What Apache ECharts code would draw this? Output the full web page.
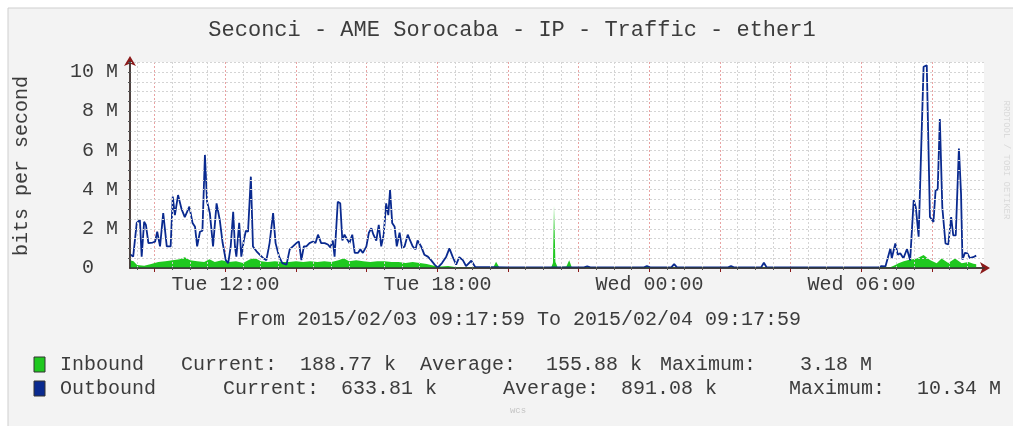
<!DOCTYPE html>
<html>
<head>
<meta charset="utf-8">
<script src="https://cdn.jsdelivr.net/npm/echarts@6/dist/echarts.min.js"></script>
<style>
  html, body { margin: 0; padding: 0; background: #fff; }
  #chart { width: 1013px; height: 426px; }
</style>
</head>
<body>
<div id="chart"></div>
<script>
// time = hour of day counted from Tue 00:00 (so 30 = Wed 06:00), values in Mbit/s
var startHour = 9.2997;   // 2015/02/03 09:17:59
var endHour = 33.47;      // a bit past 09:17:59 so the arrow sits beyond the data
var xLabelHours = [12, 18, 24, 30];
var yLabelValues = [0, 2, 4, 6, 8, 10];

var inbound = [
    [9.30, 0.40], [9.40, 0.35], [9.50, 0.15], [9.70, 0.12], [9.90, 0.20], [10.10, 0.30],
    [10.30, 0.35], [10.50, 0.40], [10.70, 0.45], [10.85, 0.55], [11.00, 0.40], [11.20, 0.35],
    [11.40, 0.30], [11.55, 0.45], [11.70, 0.30], [11.90, 0.40], [12.10, 0.30], [12.30, 0.35],
    [12.50, 0.25], [12.70, 0.45], [12.85, 0.50], [13.00, 0.35], [13.20, 0.30], [13.40, 0.35],
    [13.60, 0.30], [13.80, 0.30], [14.00, 0.35], [14.20, 0.30], [14.40, 0.35], [14.60, 0.30],
    [14.80, 0.35], [15.00, 0.30], [15.20, 0.40], [15.35, 0.50], [15.50, 0.35], [15.70, 0.40],
    [15.90, 0.35], [16.10, 0.30], [16.30, 0.35], [16.50, 0.35], [16.70, 0.30], [16.90, 0.30],
    [17.10, 0.25], [17.30, 0.30], [17.50, 0.25], [17.70, 0.20], [17.90, 0.12], [18.10, 0.08],
    [18.30, 0.10], [18.50, 0.05], [18.70, 0.03], [19.00, 0.02], [19.58, 0.03], [19.66, 0.32],
    [19.75, 0.04], [21.22, 0.03], [21.27, 0.25], [21.30, 3.18], [21.34, 0.30], [21.40, 0.05],
    [21.65, 0.08], [21.73, 0.40], [21.80, 0.05], [23.85, 0.02], [23.93, 0.10], [24.02, 0.02],
    [30.80, 0.02], [30.96, 0.15], [31.05, 0.24], [31.20, 0.35], [31.33, 0.41], [31.57, 0.49],
    [31.76, 0.66], [31.94, 0.41], [32.13, 0.24], [32.27, 0.49], [32.46, 0.26], [32.65, 0.49],
    [32.84, 0.24], [33.03, 0.30], [33.17, 0.22], [33.25, 0.19]
];

var outbound = [
    [9.30, 0.70], [9.39, 0.58], [9.49, 2.30], [9.58, 2.45], [9.63, 0.58], [9.70, 2.36],
    [9.75, 2.20], [9.82, 1.27], [9.94, 1.30], [10.01, 1.35], [10.07, 1.85], [10.15, 1.10],
    [10.24, 2.80], [10.34, 1.10], [10.45, 1.10], [10.51, 3.64], [10.57, 2.70], [10.66, 3.72],
    [10.76, 3.00], [10.85, 2.60], [10.98, 3.13], [11.07, 2.30], [11.14, 2.10], [11.20, 1.10],
    [11.28, 1.85], [11.35, 1.90], [11.42, 5.77], [11.48, 3.40], [11.56, 2.80], [11.65, 1.10],
    [11.75, 3.30], [11.84, 2.45], [11.92, 1.30], [12.01, 0.40], [12.08, 0.25], [12.15, 1.10],
    [12.22, 2.87], [12.27, 1.10], [12.31, 0.58], [12.39, 2.30], [12.45, 0.58], [12.52, 1.40],
    [12.58, 1.90], [12.64, 1.85], [12.72, 4.66], [12.78, 1.10], [12.88, 0.85], [12.97, 0.68],
    [13.07, 0.50], [13.16, 0.40], [13.25, 1.27], [13.35, 2.80], [13.42, 1.27], [13.52, 0.58],
    [13.61, 0.25], [13.73, 0.17], [13.82, 0.95], [13.91, 1.10], [14.01, 1.27], [14.08, 1.35],
    [14.15, 0.40], [14.22, 1.10], [14.29, 1.10], [14.38, 1.27], [14.48, 1.35], [14.55, 1.27],
    [14.62, 1.70], [14.71, 1.27], [14.81, 1.27], [14.90, 1.20], [14.97, 1.05], [15.04, 1.40],
    [15.09, 0.58], [15.18, 3.38], [15.25, 3.30], [15.31, 1.40], [15.37, 1.70], [15.42, 1.80],
    [15.51, 1.27], [15.59, 1.70], [15.66, 0.77], [15.75, 0.77], [15.82, 0.95], [15.89, 0.77],
    [15.99, 1.10], [16.06, 1.80], [16.13, 2.03], [16.19, 1.70], [16.27, 1.40], [16.34, 2.20],
    [16.41, 1.10], [16.48, 1.70], [16.55, 3.30], [16.61, 2.70], [16.66, 3.98], [16.72, 2.30],
    [16.79, 2.10], [16.85, 1.10], [16.93, 1.80], [17.00, 1.00], [17.07, 1.10], [17.16, 1.70],
    [17.23, 1.40], [17.30, 1.10], [17.38, 0.95], [17.44, 1.40], [17.54, 1.10], [17.63, 0.68],
    [17.73, 0.58], [17.82, 0.40], [17.92, 0.17], [18.01, 0.02], [18.13, 0.25], [18.25, 0.58],
    [18.34, 1.00], [18.43, 0.58], [18.53, 0.17], [18.62, 0.55], [18.72, 0.40], [18.81, 0.10],
    [18.96, 0.37], [19.07, 0.05], [20.00, 0.03], [22.15, 0.03], [22.24, 0.08], [22.33, 0.03],
    [23.85, 0.03], [23.93, 0.10], [24.02, 0.03], [24.62, 0.03], [24.70, 0.20], [24.78, 0.03],
    [26.23, 0.03], [26.31, 0.10], [26.39, 0.03], [27.16, 0.03], [27.24, 0.27], [27.32, 0.03],
    [30.49, 0.03], [30.57, 0.10], [30.68, 0.08], [30.82, 1.00], [30.86, 0.50], [30.96, 1.25],
    [31.03, 0.68], [31.10, 0.75], [31.19, 0.50], [31.29, 0.97], [31.38, 0.40], [31.48, 3.47],
    [31.54, 3.10], [31.62, 1.60], [31.66, 1.60], [31.76, 10.27], [31.85, 10.34], [31.90, 6.00],
    [31.94, 2.60], [32.04, 2.35], [32.10, 3.98], [32.16, 4.00], [32.22, 7.60], [32.29, 3.10],
    [32.38, 1.25], [32.46, 1.20], [32.54, 2.60], [32.60, 1.66], [32.67, 1.66], [32.76, 6.10],
    [32.82, 3.80], [32.86, 0.43], [32.93, 0.77], [33.00, 0.75], [33.07, 0.50], [33.16, 0.55],
    [33.25, 0.63]
];

var legendRows = [
    { color: '#1fc81f', y: 365, items: [['Inbound', 60], ['Current:', 181], ['188.77 k', 300], ['Average:', 420], ['155.88 k', 546], ['Maximum:', 660], ['3.18 M', 800]] },
    { color: '#0a2a8f', y: 389, items: [['Outbound', 60], ['Current:', 223], ['633.81 k', 341], ['Average:', 503], ['891.08 k', 621], ['Maximum:', 789], ['10.34 M', 917]] }
];

var FONT = '"Liberation Mono", "DejaVu Sans Mono", monospace';
var TEXT = '#3c3c3c';

// grid positions: grey lines every 30 min, red major lines every 2 hours
var minorX = [], majorX = [], minorY = [];
for (var h = 9.5; h <= 33; h += 0.5) {
    if (h % 2 !== 0) minorX.push(h);
}
for (var m = 10; m <= 32; m += 2) majorX.push(m);
for (var v = 0.5; v <= 10.5; v += 0.5) minorY.push(v);

function hourLabel(v) {
    var hh = v % 24;
    return (v < 24 ? 'Tue ' : 'Wed ') + (hh < 10 ? '0' : '') + hh + ':00';
}

var graphics = [
    { type: 'rect', z: -10, shape: { x: 8, y: 8, width: 1020, height: 430 },
      style: { fill: '#f3f3f3', stroke: '#cfcfcf', lineWidth: 1 } },
    { type: 'text', x: 512, y: 30, style: { text: 'Seconci - AME Sorocaba - IP - Traffic - ether1',
      font: '22px ' + FONT, fill: TEXT, textAlign: 'center', textVerticalAlign: 'middle' } },
    { type: 'text', x: 22, y: 166, rotation: Math.PI / 2, style: { text: 'bits per second',
      font: '20px ' + FONT, fill: TEXT, textAlign: 'center', textVerticalAlign: 'middle' } },
    { type: 'text', x: 519, y: 320, style: { text: 'From 2015/02/03 09:17:59 To 2015/02/04 09:17:59',
      font: '20px ' + FONT, fill: TEXT, textAlign: 'center', textVerticalAlign: 'middle' } },
    { type: 'text', x: 518, y: 411, style: { text: 'wcs', font: '9px ' + FONT, fill: '#c4c4c4',
      textAlign: 'center', textVerticalAlign: 'middle' } },
    { type: 'text', x: 1006, y: 160, rotation: -Math.PI / 2, style: { text: 'RRDTOOL / TOBI OETIKER',
      font: '9px ' + FONT, fill: '#dadada', textAlign: 'center', textVerticalAlign: 'middle' } }
];
legendRows.forEach(function (row) {
    graphics.push({ type: 'rect', shape: { x: 34, y: row.y - 8, width: 11, height: 15 },
        style: { fill: row.color, stroke: '#333', lineWidth: 1 } });
    row.items.forEach(function (it) {
        graphics.push({ type: 'text', x: it[1], y: row.y, style: { text: it[0],
            font: '20px ' + FONT, fill: TEXT, textVerticalAlign: 'middle' } });
    });
});

var chart = echarts.init(document.getElementById('chart'));
chart.setOption({
    animation: false,
    backgroundColor: '#ffffff',
    graphic: graphics,
    grid: {
        left: 130, right: 29, top: 62, bottom: 158,
        show: true, backgroundColor: '#ffffff', borderWidth: 0
    },
    xAxis: [
        {
            type: 'value', position: 'bottom', min: startHour, max: endHour, z: 5,
            axisLine: { lineStyle: { color: '#2f3b38', width: 1.5 } },
            axisTick: { customValues: minorX, length: 2, lineStyle: { color: '#555' } },
            axisLabel: { show: false },
            splitLine: { show: true, lineStyle: { color: '#d4d4d4', type: [2, 2], width: 1 } }
        },
        {
            type: 'value', position: 'bottom', offset: 0, min: startHour, max: endHour, z: 1,
            axisLine: { symbol: ['none', 'arrow'], symbolSize: [9, 10], symbolOffset: [0, 6],
                lineStyle: { color: '#8b1a1a', width: 1.5 } },
            axisTick: { customValues: majorX, length: 4, lineStyle: { color: '#8b1a1a' } },
            axisLabel: {
                customValues: xLabelHours, formatter: hourLabel, margin: 7,
                color: TEXT, fontFamily: FONT, fontSize: 20
            },
            splitLine: { show: true, lineStyle: { color: '#e9a3a3', type: [2, 2], width: 1 } }
        }
    ],
    yAxis: [
        {
            type: 'value', position: 'left', min: 0, max: 10.51, z: 5,
            axisLine: { show: true, lineStyle: { color: '#2f3b38', width: 1.5 } },
            axisTick: { show: true, customValues: minorY, length: 2, lineStyle: { color: '#555' } },
            axisLabel: {
                customValues: yLabelValues, margin: 12, color: TEXT, fontFamily: FONT, fontSize: 20,
                formatter: function (v) { return v === 0 ? '0  ' : v + ' M'; }
            },
            splitLine: { show: true, lineStyle: { color: '#d4d4d4', type: [2, 2], width: 1 } }
        },
        {
            type: 'value', position: 'left', offset: 0, min: 0, max: 10.51, z: 1,
            axisLine: { show: true, symbol: ['none', 'arrow'], symbolSize: [9, 10], symbolOffset: [0, 6],
                lineStyle: { color: '#8b1a1a', width: 1.5 } },
            axisTick: { show: false },
            axisLabel: { show: false },
            splitLine: { show: false }
        }
    ],
    series: [
        {
            name: 'Inbound', type: 'line', data: inbound, xAxisIndex: 0, yAxisIndex: 0,
            showSymbol: false, lineStyle: { width: 0 },
            areaStyle: { color: '#1fc81f', opacity: 1 }, z: 2
        },
        {
            name: 'Outbound', type: 'line', data: outbound, xAxisIndex: 0, yAxisIndex: 0,
            showSymbol: false, lineStyle: { color: '#0a2a8f', width: 1.8 }, z: 3
        }
    ]
});
</script>
</body>
</html>
